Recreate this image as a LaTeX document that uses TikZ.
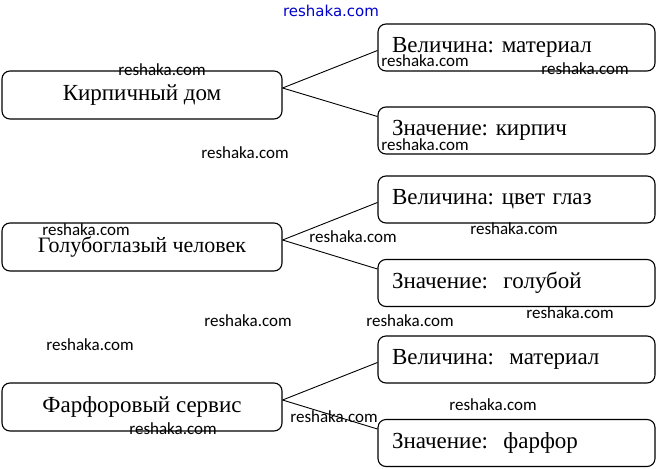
\documentclass[tikz,border=0pt]{standalone}
\usepackage{fontspec}
\setmainfont{Liberation Serif}
\newfontfamily\wmfont{Carlito}
\newfontfamily\sitefont{DejaVu Sans}
\frenchspacing
\begin{document}
\begin{tikzpicture}[x=1pt,y=-1pt,
    leftbox/.style={draw, line width=1.1pt, rounded corners=8pt,
      minimum width=280pt, minimum height=48pt,
      font=\fontsize{23}{25}\selectfont},
    rightbox/.style={draw, line width=1.1pt, rounded corners=8pt,
      text width=249pt, inner xsep=14pt, align=left, minimum height=47pt,
      font=\fontsize{23}{25}\selectfont},
    link/.style={line width=0.9pt},
    wmark/.style={font=\wmfont\fontsize{17}{18}\selectfont}]
  \useasboundingbox (0,0) rectangle (660,468);
  % Objects
  \node[leftbox] (dom) at (142,95) {Кирпичный дом};
  \node[leftbox, font=\fontsize{22}{24}\selectfont] (man) at (142,247) {Голубоглазый человек};
  \node[leftbox] (set) at (142,407) {Фарфоровый сервис};
  % Quantity and value
  \node[rightbox] (domq) at (516.5,47.5) {Величина: материал};
  \node[rightbox] (domv) at (516.5,130.5) {Значение: кирпич};
  \node[rightbox] (manq) at (516.5,199.5) {Величина: цвет глаз};
  \node[rightbox] (manv) at (516.5,283) {Значение:~ голубой};
  \node[rightbox] (setq) at (516.5,359.5) {Величина:~ материал};
  \node[rightbox] (setv) at (516.5,443) {Значение:~ фарфор};
  % Links
  \foreach \src/\q/\v in {dom/domq/domv, man/manq/manv, set/setq/setv} {
    \draw[link] ([yshift=7pt]\src.east) -- ([yshift=-3pt]\q.west);
    \draw[link] ([yshift=7pt]\src.east) -- ([yshift=14pt]\v.west);
  }
  % Watermarks
  \node[font=\sitefont\fontsize{15}{16}\selectfont, text=blue!80!black] (site) at (331,11) {reshaka.com};
  \foreach \x/\y [count=\i] in {162/70, 425/61, 585/69, 245/153, 425/145,
      86/230, 353/237, 514/229, 248/321, 410/321, 570/313, 90/345,
      493/405, 334/417, 173/429}
    \node[wmark] (wm\i) at (\x,\y) {reshaka.com};
\end{tikzpicture}
\end{document}
